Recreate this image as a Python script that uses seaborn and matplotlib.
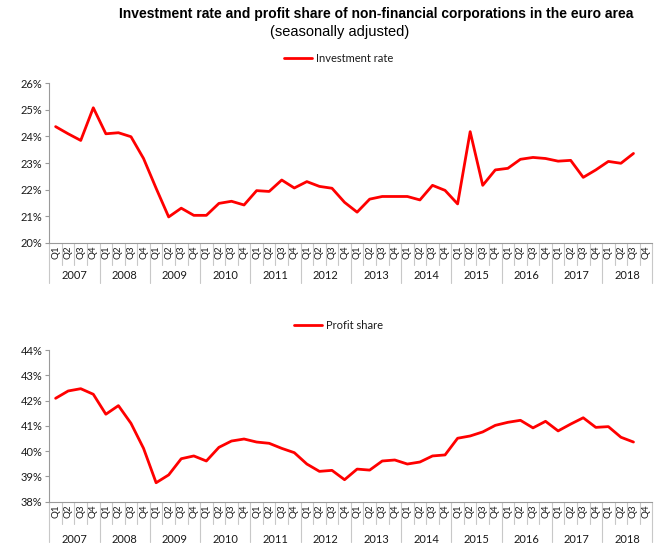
import numpy as np
import pandas as pd
import matplotlib
matplotlib.use('Agg')
import matplotlib.pyplot as plt
import seaborn as sns

years = [str(y) for y in range(2007, 2019)]
quarters = ['Q1', 'Q2', 'Q3', 'Q4']

# investment rate (%), 2007Q1 - 2018Q3
investment_rate = [
    24.37, 24.10, 23.85, 25.08,
    24.10, 24.14, 23.99, 23.17,
    22.05, 20.97, 21.30, 21.03,
    21.03, 21.48, 21.56, 21.42,
    21.96, 21.93, 22.36, 22.06,
    22.30, 22.12, 22.05, 21.52,
    21.15, 21.64, 21.74, 21.74,
    21.74, 21.61, 22.16, 21.97,
    21.46, 24.18, 22.16, 22.74,
    22.80, 23.14, 23.21, 23.17,
    23.07, 23.10, 22.46, 22.74,
    23.06, 22.99, 23.36,
]

# profit share (%), 2007Q1 - 2018Q3
profit_share = [
    42.09, 42.38, 42.47, 42.25,
    41.46, 41.80, 41.10, 40.11,
    38.75, 39.06, 39.70, 39.81,
    39.61, 40.15, 40.40, 40.48,
    40.36, 40.31, 40.11, 39.94,
    39.49, 39.20, 39.24, 38.87,
    39.29, 39.25, 39.61, 39.65,
    39.49, 39.57, 39.81, 39.85,
    40.51, 40.60, 40.76, 41.02,
    41.14, 41.22, 40.92, 41.18,
    40.80, 41.07, 41.32, 40.94,
    40.97, 40.55, 40.36,
]

labels = [q for y in years for q in quarters]
n_cat = len(labels)

sns.set_style('white')
plt.rcParams['font.family'] = ['Lato', 'DejaVu Sans']
txt = '#1a1a1a'
axis_col = '#9a9a9a'
sep_col = '#c8c8c8'

fig = plt.figure(figsize=(6.63, 5.54), dpi=100)
ax1 = fig.add_axes([0.0744, 0.5619, 0.9095, 0.2877])
ax2 = fig.add_axes([0.0744, 0.0944, 0.9095, 0.2738])

fig.text(0.568, 0.975, 'Investment rate and profit share of non-financial corporations in the euro area',
         ha='center', va='center', fontsize=10, fontweight='bold', family='Liberation Sans', color='black')
fig.text(0.512, 0.943, '(seasonally adjusted)', ha='center', va='center', fontsize=10.5,
         family='Liberation Sans', color='black')


def draw_panel(ax, values, name, ylim, year_off):
    df = pd.DataFrame({'x': np.arange(len(values)), 'y': values})
    sns.lineplot(data=df, x='x', y='y', ax=ax, color='#ff0000', lw=2, label=name)
    ax.set_xlim(-0.5, n_cat - 0.5)
    ax.set_ylim(*ylim)
    yt = np.arange(ylim[0], ylim[1] + 1, 1)
    ax.set_yticks(yt)
    ax.set_yticklabels([f'{v:.0f}%' for v in yt], fontsize=8, color=txt)
    ax.set_xticks(np.arange(n_cat))
    ax.set_xticklabels(labels, rotation=90, fontsize=7, color=txt)
    ax.tick_params(axis='x', length=0, pad=2)
    ax.tick_params(axis='y', length=3, width=0.8, color=axis_col, left=True, pad=2)
    ax.set_xlabel('')
    ax.set_ylabel('')
    for s in ['top', 'right']:
        ax.spines[s].set_visible(False)
    for s in ['left', 'bottom']:
        ax.spines[s].set_color(axis_col)
        ax.spines[s].set_linewidth(0.8)

    # separators between quarters, longer ones between years
    trans = ax.get_xaxis_transform()
    h = ax.get_position().height * fig.get_figheight() * fig.dpi
    for b in range(n_cat + 1):
        depth = 40 if b % 4 == 0 else 22
        ax.plot([b - 0.5, b - 0.5], [0, -depth / h], color=sep_col, lw=0.8,
                transform=trans, clip_on=False)

    for i, yr in enumerate(years):
        ax.annotate(yr, xy=(i * 4 + 1.5, 0), xycoords=('data', 'axes fraction'),
                    xytext=(0, -year_off * 0.72), textcoords='offset points',
                    ha='center', va='center', fontsize=8, color=txt, annotation_clip=False)

    leg = ax.legend(loc='lower center', bbox_to_anchor=(0.48, 1.06), frameon=False,
                    fontsize=8, handlelength=2.5, handletextpad=0.4)
    for t in leg.get_texts():
        t.set_color(txt)


draw_panel(ax1, investment_rate, 'Investment rate', (20, 26), 33)
draw_panel(ax2, profit_share, 'Profit share', (38, 44), 38)

fig.savefig('out.png', dpi=100)
